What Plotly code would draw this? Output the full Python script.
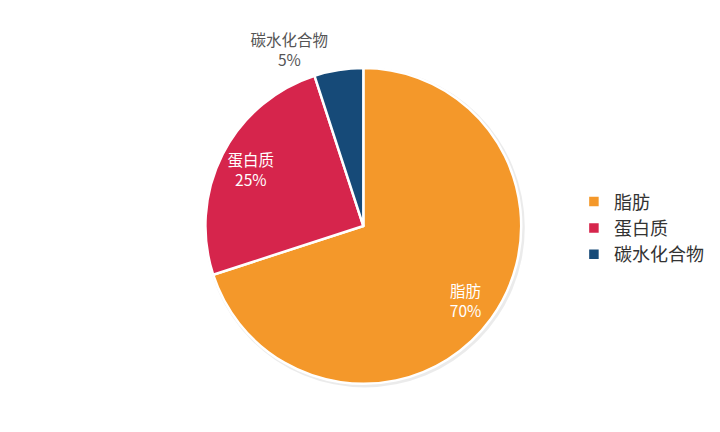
import plotly.graph_objects as go

labels = ["脂肪", "蛋白质", "碳水化合物"]
values = [70, 25, 5]
colors = ["#F4982A", "#D6254C", "#164A78"]
text_positions = ["inside", "inside", "outside"]

pie_domain = dict(x=[0.274, 0.713], y=[0.13, 0.861])
shadow_domain = dict(x=[0.2734, 0.7178], y=[0.1216, 0.8624])

fig = go.Figure()
# soft shadow behind the pie
fig.add_trace(
    go.Pie(
        labels=["shadow"],
        values=[1],
        marker=dict(colors=["rgba(0,0,0,0.08)"], line=dict(width=0)),
        textinfo="none",
        domain=shadow_domain,
        showlegend=False,
        hoverinfo="skip",
    )
)
# the coloured slices
fig.add_trace(
    go.Pie(
        labels=labels,
        values=values,
        sort=False,
        direction="clockwise",
        rotation=0,
        marker=dict(colors=colors, line=dict(color="white", width=2.5)),
        textinfo="none",
        domain=pie_domain,
        hoverinfo="label+percent",
    )
)
# transparent ring on top, only to push the inside labels outwards
fig.add_trace(
    go.Pie(
        labels=labels,
        values=values,
        sort=False,
        direction="clockwise",
        rotation=0,
        hole=0.6,
        marker=dict(colors=["rgba(0,0,0,0)"] * 3, line=dict(width=0)),
        texttemplate="%{label}<br>%{percent:.0%}",
        textposition=text_positions,
        insidetextfont=dict(color="white", size=15.5),
        outsidetextfont=dict(color="#555555", size=15.5),
        insidetextorientation="horizontal",
        domain=pie_domain,
        showlegend=False,
        hoverinfo="skip",
    )
)

fig.update_layout(
    width=720,
    height=432,
    margin=dict(l=0, r=0, t=0, b=0),
    paper_bgcolor="white",
    plot_bgcolor="white",
    font=dict(family="Noto Sans CJK SC, Noto Sans, sans-serif", color="#333333"),
    legend=dict(
        x=0.786,
        y=0.49,
        xanchor="left",
        yanchor="middle",
        font=dict(size=18, color="#333333"),
        itemwidth=30,
    ),
)

fig.write_html("out.html")
